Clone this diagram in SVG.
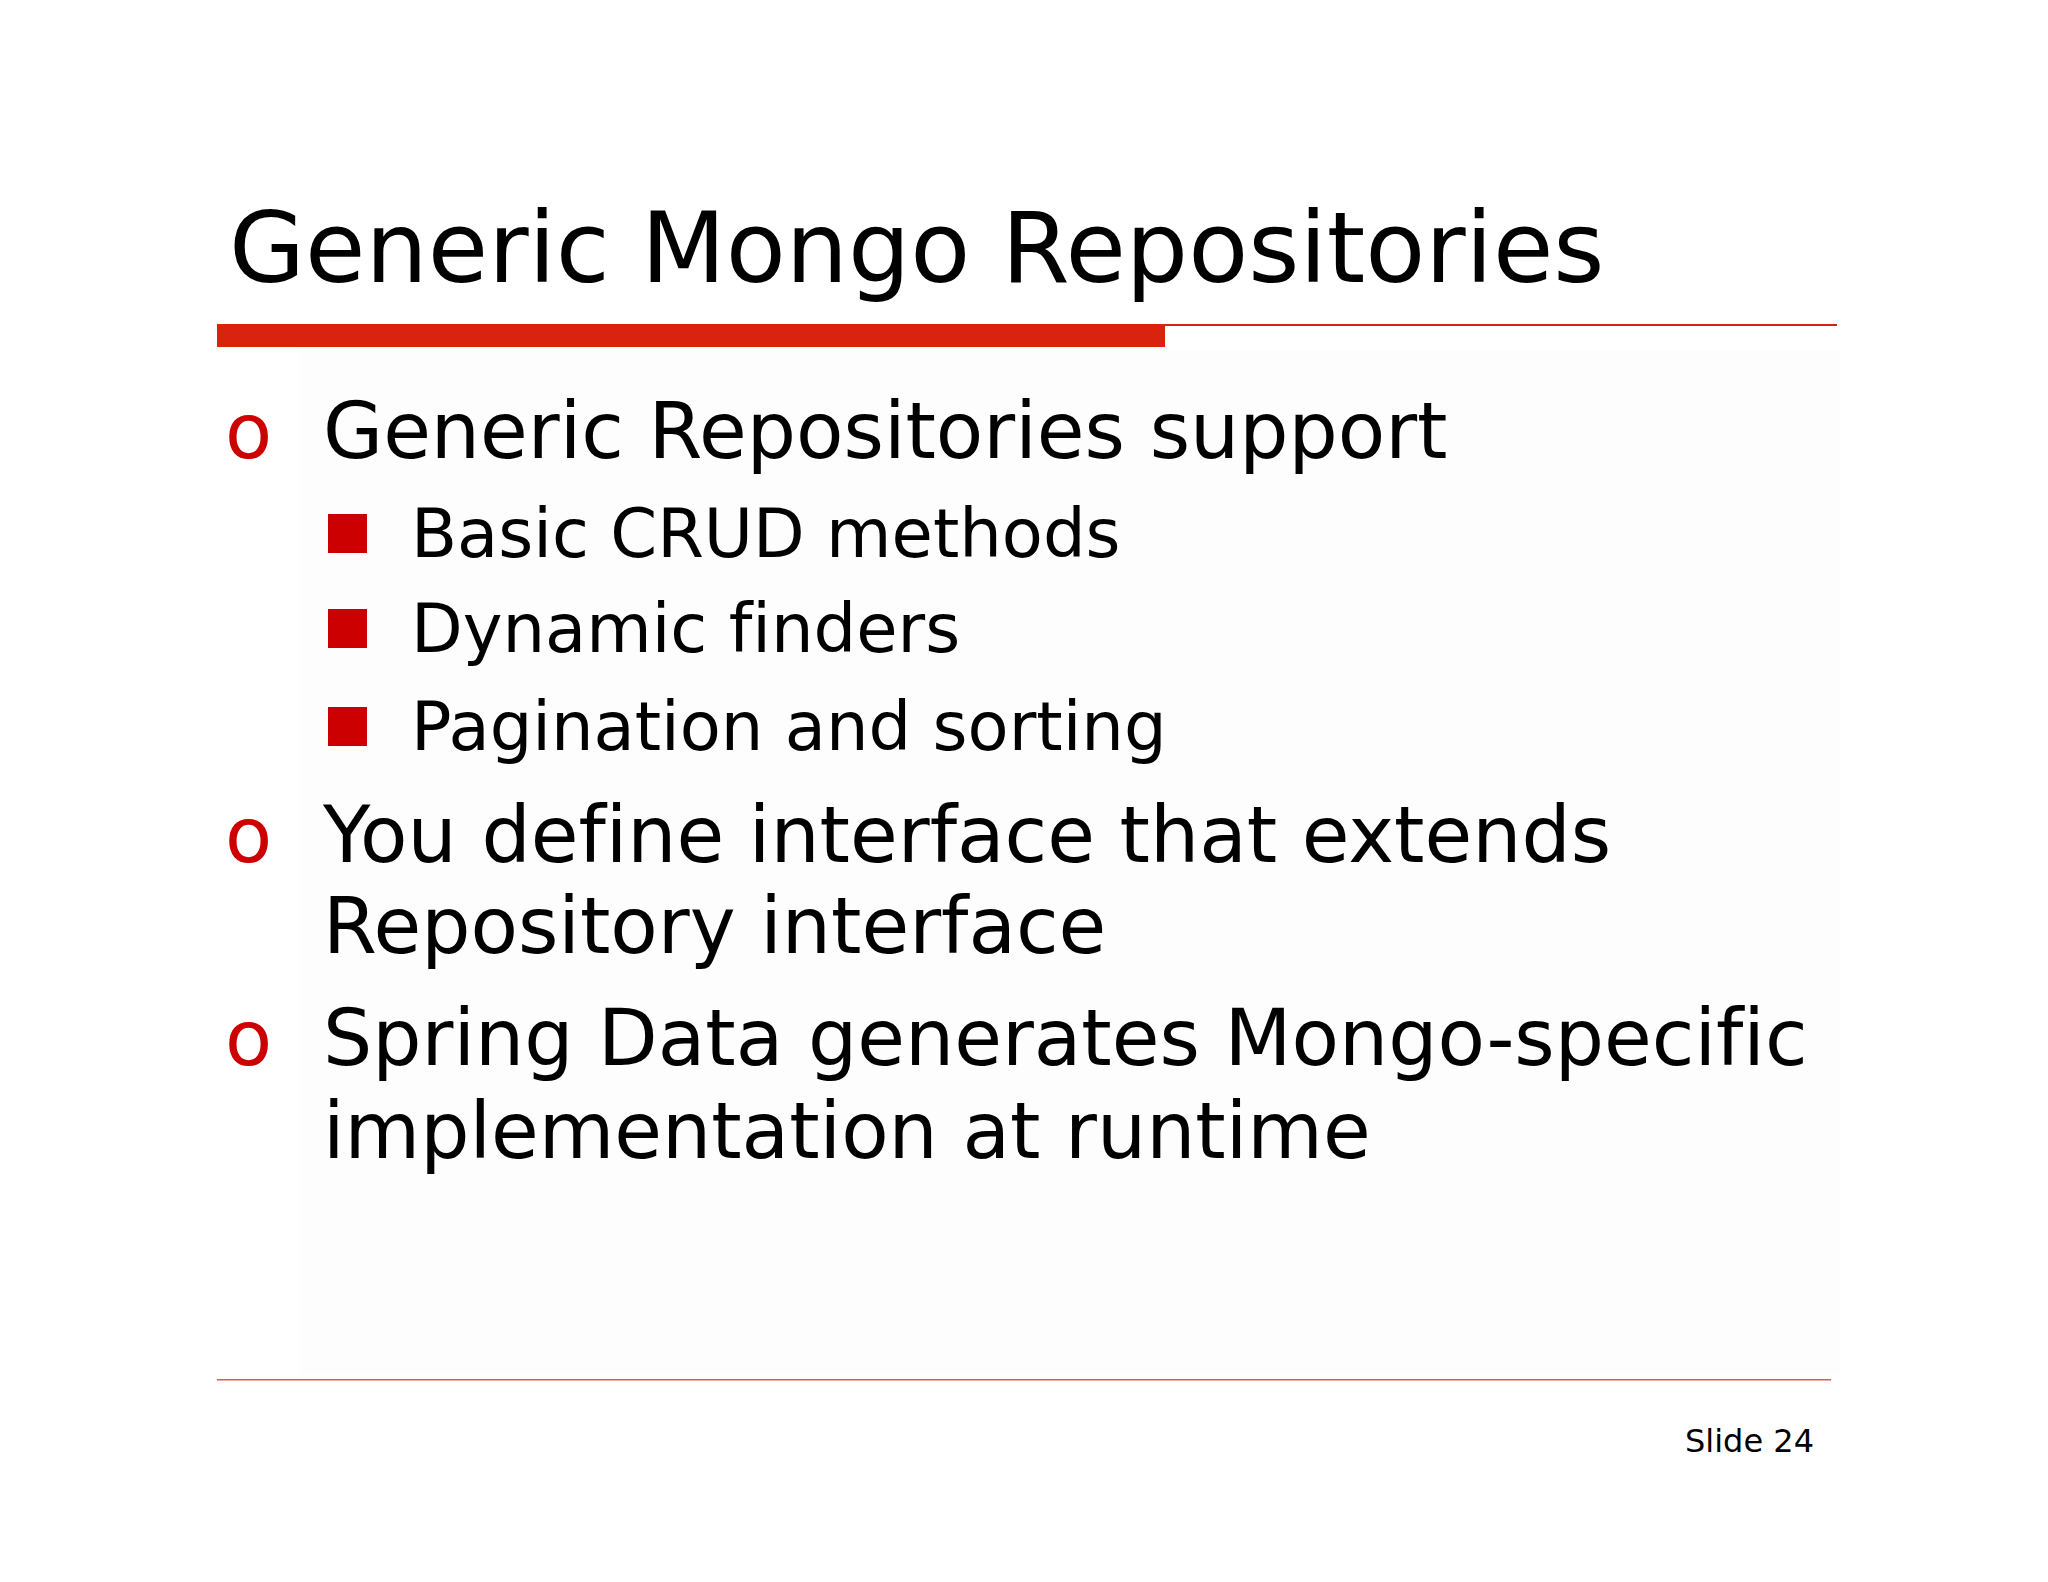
<svg xmlns="http://www.w3.org/2000/svg" width="2048" height="1582" viewBox="0 0 2048 1582">
<style>
text{font-family:"DejaVu Sans","Verdana",sans-serif;fill:#000;font-variant-ligatures:none;font-feature-settings:"liga" 0}
.title{font-size:98.2px}
.l1{font-size:77.6px}
.l2{font-size:67.2px}
.bo{font-size:77px;fill:#CC0000}
.sq{fill:#CC0000}
.foot{font-size:32px}
</style>
<rect x="0" y="0" width="2048" height="1582" fill="#FFFFFF"/>
<rect x="300" y="350" width="1540" height="1025" fill="#FDFDFD"/>
<g id="header">
<text class="title" x="229" y="282">Generic Mongo Repositories</text>
<rect x="217" y="324" width="1620" height="2" fill="#D9230F"/>
<rect x="217" y="324" width="948" height="23" fill="#D9230F"/>
</g>
<g id="bullet1">
<text class="bo" x="225" y="458">o</text>
<text class="l1" x="323" y="458">Generic Repositories support</text>
</g>
<g id="sub1">
<rect class="sq" x="328" y="514" width="39" height="39"/>
<text class="l2" x="411" y="557">Basic CRUD methods</text>
</g>
<g id="sub2">
<rect class="sq" x="328" y="609" width="39" height="39"/>
<text class="l2" x="411" y="652">Dynamic finders</text>
</g>
<g id="sub3">
<rect class="sq" x="328" y="707" width="39" height="39"/>
<text class="l2" x="411" y="750">Pagination and sorting</text>
</g>
<g id="bullet2">
<text class="bo" x="225" y="862">o</text>
<text class="l1" x="323" y="862">You define interface that extends</text>
<text class="l1" x="323" y="953">Repository interface</text>
</g>
<g id="bullet3">
<text class="bo" x="225" y="1065">o</text>
<text class="l1" x="323" y="1065">Spring Data generates Mongo-specific</text>
<text class="l1" x="323" y="1158">implementation at runtime</text>
</g>
<g id="footer">
<rect x="217" y="1379" width="1614" height="1.5" fill="#E05A50"/>
<text class="foot" x="1814" y="1452" text-anchor="end">Slide 24</text>
</g>
<g id="connectors"></g>
</svg>
